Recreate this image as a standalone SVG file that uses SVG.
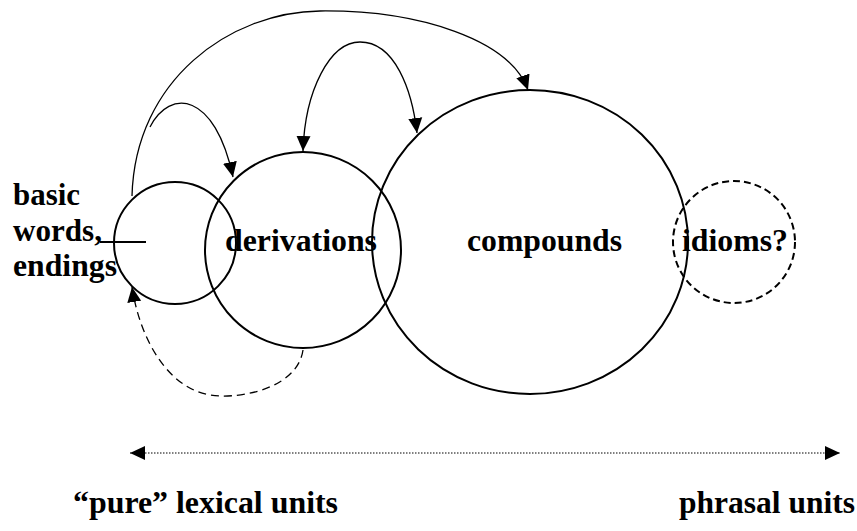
<svg xmlns="http://www.w3.org/2000/svg" width="857" height="531" viewBox="0 0 857 531">
<style>
.c{fill:none;stroke:#000;stroke-width:2}
.d{fill:none;stroke:#000;stroke-width:2;stroke-dasharray:7,4}
.a{fill:none;stroke:#000;stroke-width:1.3}
.t{font-family:'Liberation Serif','DejaVu Serif',serif;font-weight:bold;font-size:31px;fill:#000}
</style>
<defs>
<marker id="ah" markerUnits="userSpaceOnUse" markerWidth="16" markerHeight="16" viewBox="0 0 16 16" refX="15" refY="8" orient="auto-start-reverse">
<path d="M0,1 L15,8 L0,15 Z" fill="#000"/>
</marker>
</defs>
<rect width="857" height="531" fill="#fff"/>
<g id="basic">
<circle class="c" cx="175" cy="243" r="61"/>
<line x1="100" y1="242" x2="146" y2="242" stroke="#000" stroke-width="2"/>
<text class="t" x="13" y="205" textLength="67" lengthAdjust="spacingAndGlyphs">basic</text>
<text class="t" x="13" y="241" textLength="89" lengthAdjust="spacingAndGlyphs">words,</text>
<text class="t" x="13" y="276" textLength="104" lengthAdjust="spacingAndGlyphs">endings</text>
</g>
<g id="derivations">
<circle class="c" cx="303" cy="250" r="98"/>
<text class="t" x="225" y="251" textLength="152" lengthAdjust="spacingAndGlyphs">derivations</text>
</g>
<g id="compounds">
<ellipse class="c" cx="530" cy="242" rx="158" ry="152"/>
<text class="t" x="467" y="251" textLength="155" lengthAdjust="spacingAndGlyphs">compounds</text>
</g>
<g id="idioms">
<circle class="d" cx="734" cy="242" r="61"/>
<text class="t" x="682" y="251" textLength="106" lengthAdjust="spacingAndGlyphs">idioms?</text>
</g>
<g id="connectors">
<path class="a" d="M132,196 C135,80 230,12 320,11 C420,10 510,40 528,90" marker-end="url(#ah)"/>
<path class="a" d="M150,127 C170,88 215,92 233,177" marker-end="url(#ah)"/>
<path class="a" d="M303,151 C305,90 330,42 360,42 C395,42 412,90 417,133" marker-start="url(#ah)" marker-end="url(#ah)"/>
<path class="a" d="M303,350 C298,385 250,397 220,396 C170,395 140,340 132,287" stroke-width="1.8" stroke-dasharray="8,5" marker-end="url(#ah)"/>
<line x1="130" y1="453" x2="840" y2="453" stroke="#000" stroke-width="1" stroke-dasharray="1.5,1.5" marker-start="url(#ah)" marker-end="url(#ah)"/>
</g>
<g id="labels">
<text class="t" x="73" y="513" textLength="265" lengthAdjust="spacingAndGlyphs">“pure” lexical units</text>
<text class="t" x="679" y="513" textLength="176" lengthAdjust="spacingAndGlyphs">phrasal units</text>
</g>
</svg>
